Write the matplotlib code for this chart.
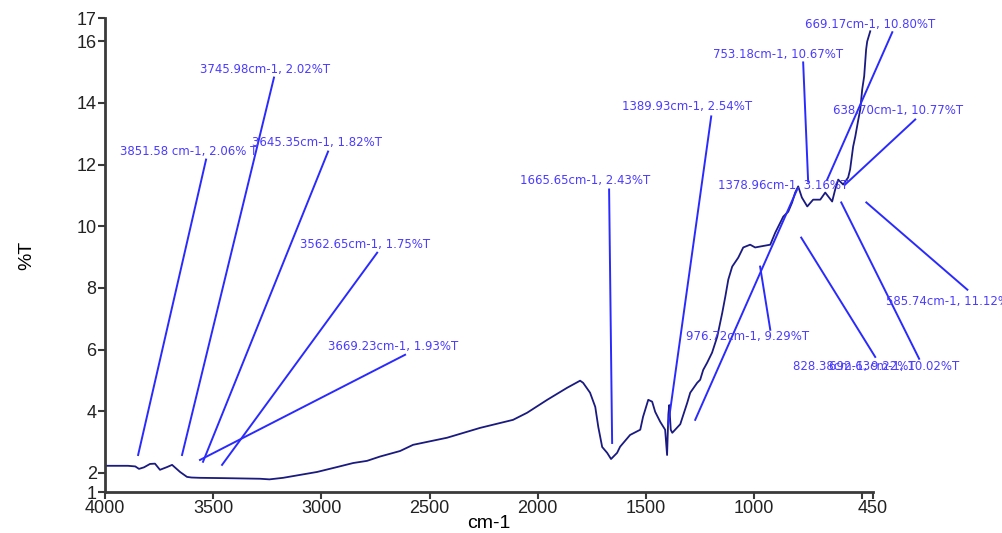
import numpy as np
import matplotlib
matplotlib.use("Agg")
import matplotlib.pyplot as plt

# spectrum (wavenumber cm-1, %T)
wavenumber = [4000, 3894, 3860, 3843, 3820, 3792, 3769, 3746, 3713, 3690,
              3653, 3621, 3600, 3561, 3450, 3283, 3240, 3177, 3020, 2927,
              2853, 2789, 2729, 2636, 2576, 2419, 2266, 2114, 2049, 1956,
              1864, 1804, 1790, 1758, 1734, 1720, 1702, 1679, 1661, 1633,
              1619, 1573, 1526, 1513, 1489, 1471, 1457, 1434, 1411, 1402,
              1396, 1392, 1385, 1378, 1341, 1309, 1295, 1263, 1249, 1235,
              1217, 1194, 1170, 1147, 1133, 1119, 1101, 1073, 1050, 1018,
              995, 972, 925, 902, 865, 842, 824, 810, 796, 779,
              754, 727, 694, 671, 639, 625, 611, 588, 565, 556,
              542, 532, 518, 509, 500, 491, 482, 477, 463]
transmittance = [2.23, 2.23, 2.21, 2.13, 2.18, 2.29, 2.30, 2.10, 2.19, 2.26,
                 2.03, 1.87, 1.85, 1.84, 1.83, 1.81, 1.79, 1.84, 2.03, 2.19,
                 2.32, 2.39, 2.53, 2.71, 2.91, 3.14, 3.46, 3.72, 3.95, 4.37,
                 4.76, 4.99, 4.92, 4.60, 4.14, 3.49, 2.84, 2.65, 2.45, 2.65,
                 2.85, 3.23, 3.40, 3.82, 4.37, 4.31, 3.98, 3.66, 3.40, 2.58,
                 3.90, 4.20, 3.40, 3.30, 3.58, 4.27, 4.60, 4.92, 5.02, 5.34,
                 5.57, 5.90, 6.42, 7.19, 7.71, 8.27, 8.69, 8.98, 9.31, 9.40,
                 9.31, 9.34, 9.40, 9.79, 10.31, 10.47, 10.77, 11.09, 11.29, 10.93,
                 10.64, 10.86, 10.86, 11.09, 10.80, 11.19, 11.51, 11.35, 11.58, 11.84,
                 12.58, 12.91, 13.46, 13.79, 14.44, 14.86, 15.73, 15.99, 16.32]

# peak labels: text, text anchor (cm-1, %T), leader line start and end
peak_labels = ["3851.58 cm-1, 2.06% T", "3745.98cm-1, 2.02%T", "3645.35cm-1, 1.82%T",
               "3562.65cm-1, 1.75%T", "3669.23cm-1, 1.93%T", "1665.65cm-1, 2.43%T",
               "1389.93cm-1, 2.54%T", "753.18cm-1, 10.67%T", "669.17cm-1, 10.80%T",
               "638.70cm-1, 10.77%T", "1378.96cm-1, 3.16%T", "976.72cm-1, 9.29%T",
               "828.38cm-1, 9.22%T", "692.63cm-1, 10.02%T", "585.74cm-1, 11.12%T"]
label_x = [3931, 3561, 3320, 3098, 2969, 2081, 1610, 1189, 764, 634, 1166, 1314, 819, 655, 392]
label_y = [12.42, 15.08, 12.71, 9.40, 6.09, 11.48, 13.88, 15.57, 16.55, 13.75, 11.32, 6.42, 5.44, 5.44, 7.57]
line_x0 = [3533, 3219, 2969, 2742, 2613, 1670, 1198, 773, 361, 255, 801, 925, 782, 597, 481]
line_y0 = [12.16, 14.82, 12.42, 9.14, 5.83, 11.19, 13.56, 15.31, 16.29, 13.46, 11.19, 6.64, 9.63, 10.77, 10.77]
line_x1 = [3847, 3644, 3547, 3459, 3561, 1656, 1397, 750, 662, 579, 1272, 972, 440, 237, 14]
line_y1 = [2.58, 2.58, 2.36, 2.26, 2.42, 2.97, 3.56, 11.45, 11.51, 11.35, 3.72, 8.69, 5.76, 5.70, 7.94]

x_ticks = [4000, 3500, 3000, 2500, 2000, 1500, 1000, 500, 450]
x_tick_labels = ["4000", "3500", "3000", "2500", "2000", "1500", "1000", "", "450"]
y_ticks = [1.38, 2, 4, 6, 8, 10, 12, 14, 16, 16.75]
y_tick_labels = ["1", "2", "4", "6", "8", "10", "12", "14", "16", "17"]

fig = plt.figure(figsize=(10.02, 5.33), dpi=100)
ax = fig.add_axes([0.1048, 0.0769, 0.7665, 0.8893])

ax.plot(wavenumber, transmittance, color="#1a1a80", lw=1.3)

for i in range(len(peak_labels)):
    ax.plot([line_x0[i], line_x1[i]], [line_y0[i], line_y1[i]],
            color="#2a2aff", lw=1.4, clip_on=False)
    ax.text(label_x[i], label_y[i], peak_labels[i], color="#4b3cff",
            fontsize=8.5, ha="left", va="center", clip_on=False)

ax.set_xlim(4000, 450)
ax.set_ylim(1.38, 16.75)
ax.set_xticks(x_ticks)
ax.set_xticklabels(x_tick_labels)
ax.set_yticks(y_ticks)
ax.set_yticklabels(y_tick_labels)

for s in ["top", "right"]:
    ax.spines[s].set_visible(False)
for s in ["left", "bottom"]:
    ax.spines[s].set_color("#3a3a3a")
    ax.spines[s].set_linewidth(2)
ax.tick_params(direction="out", length=5, width=1.5, color="#3a3a3a",
               labelsize=13, labelcolor="#222222", pad=1)
for lab in ax.get_xticklabels() + ax.get_yticklabels():
    lab.set_family("Liberation Sans")

ax.set_xlabel("cm-1", fontsize=14, family="Liberation Sans", labelpad=-2)
ax.set_ylabel("%T", fontsize=14, family="Liberation Sans", labelpad=30)

fig.savefig("out.png", dpi=100)
